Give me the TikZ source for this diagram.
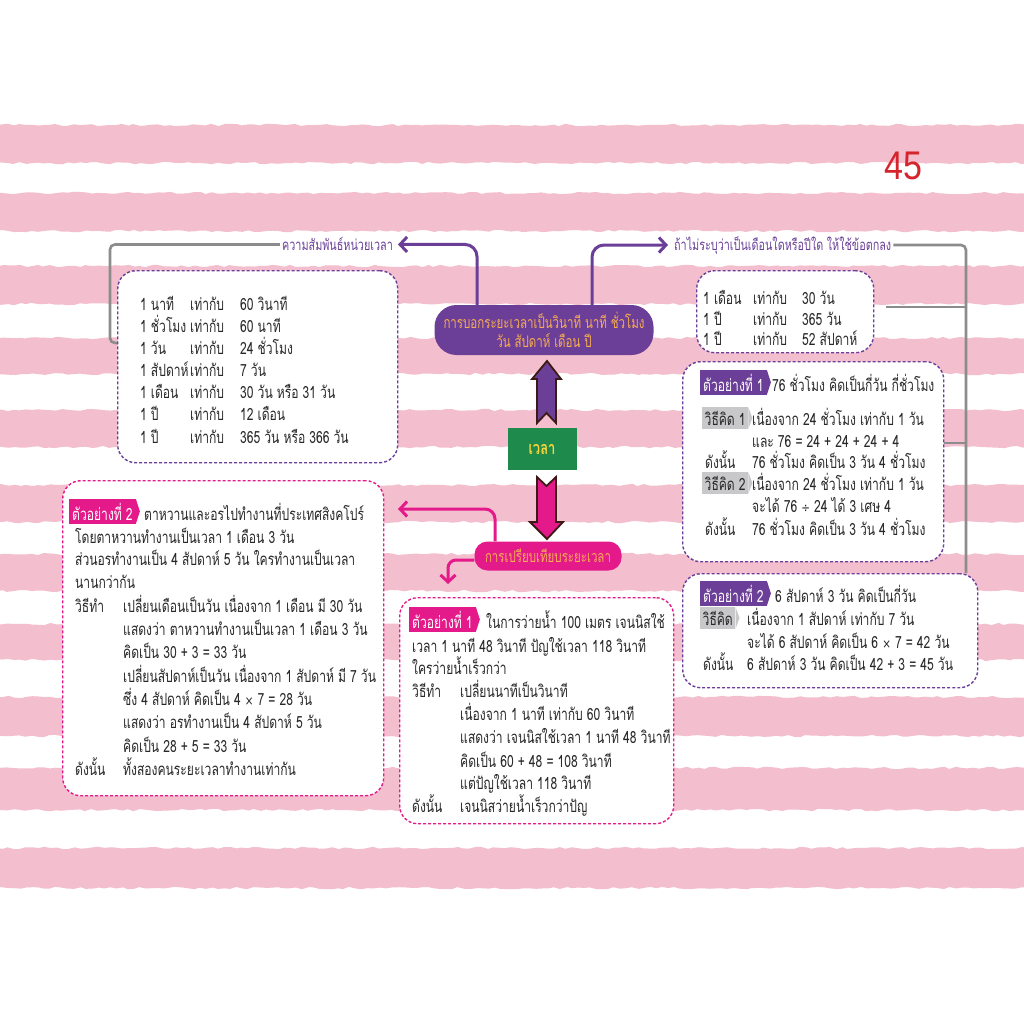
\documentclass[tikz,border=0pt]{standalone}
\usepackage{fontspec}
\setmainfont[Script=Thai, FakeStretch=0.72]{Loma}
\newfontfamily\dv[FakeStretch=0.8]{DejaVu Sans}
\newfontfamily\lib[FakeStretch=0.85]{Liberation Sans}
\usetikzlibrary{arrows.meta,decorations.pathmorphing,calc}
\definecolor{stripec}{RGB}{243,190,205}
\definecolor{purp}{RGB}{107,63,152}
\definecolor{mag}{RGB}{228,26,138}
\definecolor{gold}{RGB}{246,172,82}
\definecolor{grn}{RGB}{30,138,75}
\definecolor{yel}{RGB}{248,214,60}
\definecolor{gcol}{RGB}{140,140,140}
\definecolor{tagg}{RGB}{200,200,203}
\definecolor{pgred}{RGB}{214,36,44}
\definecolor{outl}{RGB}{60,25,20}
\definecolor{ink}{RGB}{40,40,40}
\newcommand\tms{{\dv\fontsize{13}{16}\selectfont ×}}
\newcommand\dvs{{\dv\fontsize{13}{16}\selectfont ÷}}
\tikzset{
  stripe/.style={fill=stripec, decorate, decoration={random steps, segment length=6pt, amplitude=1.2pt}},
  tx/.style={anchor=base west, inner sep=0pt, font=\fontsize{16.8}{19}\selectfont, text=ink},
  lab/.style={inner sep=2pt, font=\fontsize{15}{17}\selectfont, text=purp},
  dbox/.style={draw, line width=1.4pt, dash pattern=on 3pt off 2pt, rounded corners=18pt, fill=white, anchor=north west, inner sep=0pt},
  pill/.style={inner sep=0pt, align=center, text=gold, font=\fontsize{16}{19}\selectfont},
  gcon/.style={draw=gcol, line width=2.6pt, rounded corners=5pt},
  pcon/.style={draw=purp, line width=3pt, rounded corners=12pt, -{Straight Barb[length=7pt,width=15pt]}},
  mcon/.style={draw=mag, line width=3pt, rounded corners=10pt, -{Straight Barb[length=7pt,width=15pt]}},
  tagbase/.style={anchor=base west, inner xsep=3pt, inner ysep=3.5pt, font=\fontsize{16.8}{19}\selectfont},
  ptag/.style={tagbase, fill=purp, text=white},
  mtag/.style={tagbase, fill=mag, text=white},
  gtag/.style={tagbase, inner xsep=2.5pt, fill=tagg, text=ink},
  barrow/.style={line width=1.8pt, draw=outl, line join=miter},
}
\newcommand\tn[4]{\node[tx] (#1) at (#2,#3) {#4};}
\newcommand\notch[2]{\fill[#2] (#1.north east) -- ($(#1.east)+(4,0)$) -- (#1.south east) -- cycle;}
\begin{document}
\begin{tikzpicture}[x=1pt,y=-1pt]
\useasboundingbox (0,0) rectangle (1024,1024);
\fill[white] (0,0) rectangle (1024,1024);
\begin{scope}
\clip (0,0) rectangle (1024,1024);
\foreach \a/\b in {125/163,193/231,266/304,338/374,410/447,485/522,554/591,624/660,697/736,768/810,848/888}
  \fill[stripe] (-10,\a) rectangle (1034,\b);
\end{scope}

% page number
\node[anchor=base west, inner sep=0pt, text=pgred, font=\lib\fontsize{40}{40}\selectfont] (pg) at (884,180) {45};

% ---------- central nodes
\node[pill, fill=purp, rounded corners=22pt, minimum width=219pt, minimum height=50pt] (top) at (544,330) {การบอกระยะเวลาเป็นวินาที นาที ชั่วโมง\\วัน สัปดาห์ เดือน ปี};
\node[fill=grn, minimum width=69pt, minimum height=42pt, inner sep=0pt, text=yel, font=\bfseries\fontsize{18}{20}\selectfont] (vl) at (542,449) {เวลา};
\node[pill, fill=mag, rounded corners=13pt, minimum width=147pt, minimum height=29pt] (bot) at (548,556) {การเปรียบเทียบระยะเวลา};

% block arrows
\draw[barrow, fill=purp] (547,361) -- (561,379) -- (556,379) -- (556,423) -- (546.5,413) -- (537,423) -- (537,379) -- (532,379) -- cycle;
\draw[barrow, fill=mag] (537,477) -- (546.5,486) -- (556,477) -- (556,522) -- (563,522) -- (547,539) -- (530,522) -- (537,522) -- cycle;

% ---------- labels
\node[lab, anchor=base east] (lab1) at (395,251) {ความสัมพันธ์หน่วยเวลา};
\node[lab, anchor=base west] (lab2) at (672,250) {ถ้าไม่ระบุว่าเป็นเดือนใดหรือปีใด ให้ใช้ข้อตกลง};

% ---------- box 1
\node[dbox, draw=purp, minimum width=280pt, minimum height=192pt] (bx1) at (117,270) {};
\tn{a1}{140}{310}{1 นาที}      \tn{a2}{190}{310}{เท่ากับ} \tn{a3}{240}{310}{60 วินาที}
\tn{a4}{140}{332}{1 ชั่วโมง}    \tn{a5}{190}{332}{เท่ากับ} \tn{a6}{240}{332}{60 นาที}
\tn{a7}{140}{354}{1 วัน}       \tn{a8}{190}{354}{เท่ากับ} \tn{a9}{240}{354}{24 ชั่วโมง}
\tn{a10}{140}{376}{1 สัปดาห์}  \tn{a11}{190}{376}{เท่ากับ} \tn{a12}{240}{376}{7 วัน}
\tn{a13}{140}{398}{1 เดือน}    \tn{a14}{190}{398}{เท่ากับ} \tn{a15}{240}{398}{30 วัน หรือ 31 วัน}
\tn{a16}{140}{420}{1 ปี}       \tn{a17}{190}{420}{เท่ากับ} \tn{a18}{240}{420}{12 เดือน}
\tn{a19}{140}{443}{1 ปี}       \tn{a20}{190}{443}{เท่ากับ} \tn{a21}{240}{443}{365 วัน หรือ 366 วัน}

% ---------- box 2
\node[dbox, draw=purp, minimum width=177pt, minimum height=82pt] (bx2) at (696,270) {};
\tn{c1}{703}{304}{1 เดือน} \tn{c2}{753}{304}{เท่ากับ} \tn{c3}{802}{304}{30 วัน}
\tn{c4}{703}{325}{1 ปี}    \tn{c5}{753}{325}{เท่ากับ} \tn{c6}{802}{325}{365 วัน}
\tn{c7}{703}{345}{1 ปี}    \tn{c8}{753}{345}{เท่ากับ} \tn{c9}{802}{345}{52 สัปดาห์}

% ---------- box 3
\node[dbox, draw=purp, minimum width=261pt, minimum height=200pt] (bx3) at (682,361) {};
\node[ptag] (t3) at (700,391) {ตัวอย่างที่ 1}; \notch{t3}{purp}
\tn{d1}{772}{391}{76 ชั่วโมง คิดเป็นกี่วัน กี่ชั่วโมง}
\node[gtag] (g31) at (702,425) {วิธีคิด 1}; \notch{g31}{tagg}
\tn{d2}{752}{425}{เนื่องจาก 24 ชั่วโมง เท่ากับ 1 วัน}
\tn{d3}{752}{447}{และ 76 = 24 + 24 + 24 + 4}
\tn{d4}{705}{468}{ดังนั้น} \tn{d5}{752}{468}{76 ชั่วโมง คิดเป็น 3 วัน 4 ชั่วโมง}
\node[gtag] (g32) at (702,490) {วิธีคิด 2}; \notch{g32}{tagg}
\tn{d6}{752}{490}{เนื่องจาก 24 ชั่วโมง เท่ากับ 1 วัน}
\tn{d7}{752}{512}{จะได้ 76 \dvs{} 24 ได้ 3 เศษ 4}
\tn{d8}{705}{535}{ดังนั้น} \tn{d9}{752}{535}{76 ชั่วโมง คิดเป็น 3 วัน 4 ชั่วโมง}

% ---------- box 4
\node[dbox, draw=purp, minimum width=295pt, minimum height=114pt] (bx4) at (682,573) {};
\node[ptag] (t4) at (700,602) {ตัวอย่างที่ 2}; \notch{t4}{purp}
\tn{e1}{775}{602}{6 สัปดาห์ 3 วัน คิดเป็นกี่วัน}
\node[gtag] (g4) at (700,625) {วิธีคิด}; \notch{g4}{tagg}
\tn{e2}{747}{625}{เนื่องจาก 1 สัปดาห์ เท่ากับ 7 วัน}
\tn{e3}{747}{648}{จะได้ 6 สัปดาห์ คิดเป็น 6 \tms{} 7 = 42 วัน}
\tn{e4}{703}{670}{ดังนั้น} \tn{e5}{747}{670}{6 สัปดาห์ 3 วัน คิดเป็น 42 + 3 = 45 วัน}

% ---------- box 5
\node[dbox, draw=mag, minimum width=321pt, minimum height=315pt] (bx5) at (62,480) {};
\node[mtag] (t5) at (69,520) {ตัวอย่างที่ 2}; \notch{t5}{mag}
\tn{f1}{144}{520}{ตาหวานและอรไปทำงานที่ประเทศสิงคโปร์}
\tn{f2}{75}{543}{โดยตาหวานทำงานเป็นเวลา 1 เดือน 3 วัน}
\tn{f3}{75}{565}{ส่วนอรทำงานเป็น 4 สัปดาห์ 5 วัน ใครทำงานเป็นเวลา}
\tn{f4}{75}{588}{นานกว่ากัน}
\tn{f5}{75}{612}{วิธีทำ} \tn{f6}{123}{612}{เปลี่ยนเดือนเป็นวัน เนื่องจาก 1 เดือน มี 30 วัน}
\tn{f7}{123}{635}{แสดงว่า ตาหวานทำงานเป็นเวลา 1 เดือน 3 วัน}
\tn{f8}{123}{658}{คิดเป็น 30 + 3 = 33 วัน}
\tn{f9}{123}{682}{เปลี่ยนสัปดาห์เป็นวัน เนื่องจาก 1 สัปดาห์ มี 7 วัน}
\tn{f10}{123}{705}{ซึ่ง 4 สัปดาห์ คิดเป็น 4 \tms{} 7 = 28 วัน}
\tn{f11}{123}{728}{แสดงว่า อรทำงานเป็น 4 สัปดาห์ 5 วัน}
\tn{f12}{123}{752}{คิดเป็น 28 + 5 = 33 วัน}
\tn{f13}{75}{775}{ดังนั้น} \tn{f14}{123}{775}{ทั้งสองคนระยะเวลาทำงานเท่ากัน}

% ---------- box 6
\node[dbox, draw=mag, minimum width=274pt, minimum height=226pt] (bx6) at (399,597) {};
\node[mtag] (t6) at (409,628) {ตัวอย่างที่ 1}; \notch{t6}{mag}
\tn{h1}{486}{628}{ในการว่ายน้ำ 100 เมตร เจนนิสใช้}
\tn{h2}{412}{652}{เวลา 1 นาที 48 วินาที ปัญใช้เวลา 118 วินาที}
\tn{h3}{412}{674}{ใครว่ายน้ำเร็วกว่า}
\tn{h4}{412}{697}{วิธีทำ} \tn{h5}{460}{697}{เปลี่ยนนาทีเป็นวินาที}
\tn{h6}{460}{720}{เนื่องจาก 1 นาที เท่ากับ 60 วินาที}
\tn{h7}{460}{743}{แสดงว่า เจนนิสใช้เวลา 1 นาที 48 วินาที}
\tn{h8}{460}{767}{คิดเป็น 60 + 48 = 108 วินาที}
\tn{h9}{460}{789}{แต่ปัญใช้เวลา 118 วินาที}
\tn{h10}{412}{812}{ดังนั้น} \tn{h11}{460}{812}{เจนนิสว่ายน้ำเร็วกว่าปัญ}

% ---------- connectors
\draw[pcon, shorten >=3pt] ([xshift=-67pt]top.north) |- (lab1.east);
\draw[pcon, shorten >=4pt] ([xshift=48pt]top.north) |- (lab2.west);
\coordinate (gl) at (110,343);
\draw[gcon] (lab1.west) -- (lab1.west -| gl) -- (gl) -- (gl -| bx1.west);
\coordinate (gr) at (966,0);
\draw[gcon] (lab2.east) -- (lab2.east -| gr) -- (gr |- bx4.north);
\draw[gcon, rounded corners=0pt, shorten <=12pt] (bx2.east |- 0,307) -- (gr |- 0,307);
\draw[gcon, rounded corners=0pt] (bx3.east |- 0,443) -- (gr |- 0,443);
\coordinate (m1) at (398,509);
\coordinate (m2) at (448,584);
\draw[mcon] ([xshift=-53pt]bot.north) |- (m1);
\draw[mcon, rounded corners=8pt] ([yshift=-4pt]bot.west) -| (m2);
\end{tikzpicture}
\end{document}
